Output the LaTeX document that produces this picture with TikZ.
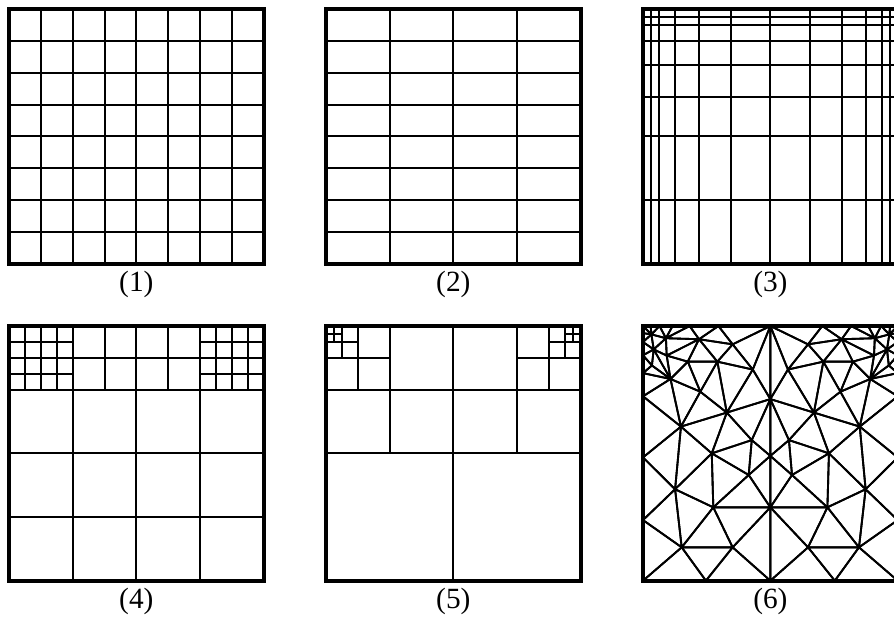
\documentclass[tikz,border=0pt]{standalone}
\usepackage{fontspec}
\setmainfont{Liberation Serif}
\usepackage{tikz}
\usetikzlibrary{calc}
\tikzset{
  gridline/.style={line width=1.5pt, line cap=butt},
  meshline/.style={line width=1.4pt, line join=round},
  frameline/.style={line width=3.2pt, line join=miter},
  caption/.style={font=\fontsize{22}{26}\selectfont, inner sep=0pt}
}

\begin{document}
\begin{tikzpicture}[x=191pt,y=191pt]
  \def\gap{1.2446}
  \useasboundingbox (-0.0353,-0.1504) rectangle (3.4747,2.2799);
  \clip (-0.0353,-0.1504) rectangle (3.4747,2.2799);
  \fill[white] (-0.0353,-0.1504) rectangle (3.4747,2.2799);

  % (1) uniform grid
  \begin{scope}[shift={(0,\gap)}]
    \foreach \k in {1,...,7} {
      \draw[gridline] (\k/8,0) -- (\k/8,1);
      \draw[gridline] (0,\k/8) -- (1,\k/8);
    }
    \draw[frameline] (0,0) rectangle (1,1);
    \node[caption] (cap1) at (0.5,-0.0824) {(1)};
  \end{scope}

  % (2) stretched grid
  \begin{scope}[shift={(\gap,\gap)}]
    \foreach \k in {1,2,3}
      \draw[gridline] (\k/4,0) -- (\k/4,1);
    \foreach \k in {1,...,7}
      \draw[gridline] (0,\k/8) -- (1,\k/8);
    \draw[frameline] (0,0) rectangle (1,1);
    \node[caption] (cap2) at (0.5,-0.0824) {(2)};
  \end{scope}

  % (3) graded grid
  \begin{scope}[shift={(2*\gap,\gap)}]
    \foreach \k in {1,2,4,7,11,16,21,25,28,30,31}
      \draw[gridline] (\k/32,0) -- (\k/32,1);
    \foreach \k in {1,2,4,7,11,16,24}
      \draw[gridline] (0,1-\k/32) -- (1,1-\k/32);
    \draw[frameline] (0,0) rectangle (1,1);
    \node[caption] (cap3) at (0.5,-0.0824) {(3)};
  \end{scope}

  % (4) block refinement
  \begin{scope}[shift={(0,0)}]
    \foreach \k in {1,2,3} {
      \draw[gridline] (\k/4,0) -- (\k/4,1);
      \draw[gridline] (0,\k/4) -- (1,\k/4);
    }
    \draw[gridline] (0,7/8) -- (1,7/8);
    \foreach \k in {3,5}
      \draw[gridline] (\k/8,3/4) -- (\k/8,1);
    \foreach \k in {1,2,3} {
      \draw[gridline] (\k/16,3/4) -- (\k/16,1);
      \draw[gridline] (1-\k/16,3/4) -- (1-\k/16,1);
    }
    \foreach \k in {13,15} {
      \draw[gridline] (0,\k/16) -- (1/4,\k/16);
      \draw[gridline] (3/4,\k/16) -- (1,\k/16);
    }
    \draw[frameline] (0,0) rectangle (1,1);
    \node[caption] (cap4) at (0.5,-0.0824) {(4)};
  \end{scope}

  % (5) quadtree
  \begin{scope}[shift={(\gap,0)}]
    \draw[gridline] (1/2,0) -- (1/2,1);
    \draw[gridline] (0,1/2) -- (1,1/2);
    \draw[gridline] (0,3/4) -- (1,3/4);
    \draw[gridline] (1/4,1/2) -- (1/4,1);
    \draw[gridline] (3/4,1/2) -- (3/4,1);
    \foreach \d in {4,8,16} {
      \pgfmathsetmacro{\c}{1/\d}
      \draw[gridline] (\c/2,1-\c) -- (\c/2,1);
      \draw[gridline] (0,1-\c/2) -- (\c,1-\c/2);
      \draw[gridline] (1-\c/2,1-\c) -- (1-\c/2,1);
      \draw[gridline] (1-\c,1-\c/2) -- (1,1-\c/2);
    }
    \draw[frameline] (0,0) rectangle (1,1);
    \node[caption] (cap5) at (0.5,-0.0824) {(5)};
  \end{scope}

  % (6) triangulation, left half mirrored
  \begin{scope}[shift={(2*\gap,0)}]
    \foreach \n/\x/\y in {K0/0/0, T7/3.0/0, T6/6.5/0, T5/11.6/0, T4/18.3/0,
        T1/29.6/0, T0/50/0, L7/0/2.8, L6/0/6.3, L5/0/11.5, L4/0/18.5,
        L3/0/27.6, L2/0/51.6, L1/0/76.2, B0/0/100, B1/24.7/100, B2/50/100,
        C1/50/71.2, C2/50/51.0, C3/50/28.7,
        P1/15.2/86.9, P2/35.2/86.9, P3/27.6/71.2, P4/12.6/64.1, P5/27.0/50.0,
        P6/41.5/58.5, P7/42.7/44.8, P8/14.9/39.5, P9/32.9/34.0, P10/43.1/17.1,
        P11/29.2/14.0, P12/22.5/25.8, P13/35.2/7.2, P14/17.6/14.0,
        P15/10.8/20.8, P16/9.3/11.6, P17/22.0/5.2,
        N1/3.3/3.3, N2/9.0/4.8, N3/4.2/9.2, N6/3.5/15.5} {
      \coordinate (\n) at ({\x/100},{1-\y/100});
      \coordinate (m\n) at ({1-\x/100},{1-\y/100});
    }
    \foreach \a/\b/\c in {K0/T7/N1, K0/L7/N1, T7/T6/N1, L7/L6/N1, T6/N1/N2,
        T6/T5/N2, L6/N1/N3, L6/L5/N3, N1/N2/N3, N2/N3/P16, T5/T4/N2,
        T4/P17/N2, N2/P17/P16, P16/P17/P14, T4/T1/P17, T1/P13/P17,
        P17/P13/P11, P17/P11/P14, T1/T0/P13, T0/P13/P10, P13/P10/P11,
        T0/P10/C3, P10/C3/P9, P10/P9/P11, P11/P9/P12, P11/P12/P14,
        P14/P12/P15, P14/P15/P16, P16/P15/N3, L5/N6/N3, N3/N6/P15,
        L5/L4/N6, N6/P15/L4, L4/P15/L3, P15/L3/P8, P15/P8/P12, P8/P12/P9,
        P8/L3/L2, P8/L2/P4, P8/P4/P5, P8/P5/P9, P9/P5/P7, P9/P7/C3,
        P7/C3/C2, P7/C2/P6, P7/P6/P5, P5/P6/P3, P5/P3/P4, P4/L2/L1,
        P4/L1/P1, P4/P1/P3, P3/P1/P2, P3/P2/C1, P3/C1/P6, P6/C1/C2,
        P1/L1/B0, P1/B0/B1, P1/B1/P2, P2/B1/B2, P2/B2/C1} {
      \draw[meshline] (\a) -- (\b) -- (\c) -- cycle;
      \draw[meshline] (m\a) -- (m\b) -- (m\c) -- cycle;
    }
    \draw[frameline] (0,0) rectangle (1,1);
    \node[caption] (cap6) at (0.5,-0.0824) {(6)};
  \end{scope}
\end{tikzpicture}
\end{document}
